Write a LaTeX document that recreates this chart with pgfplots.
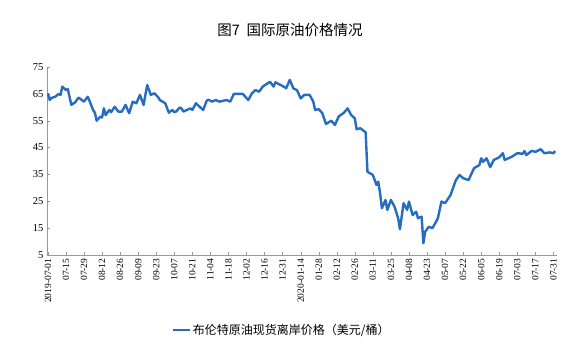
\documentclass[border=0pt]{standalone}
\usepackage{pgfplots}
\pgfplotsset{compat=1.18}
\usepackage{fontspec}
\setmainfont{Liberation Serif}
\newfontfamily\cjk{Noto Sans CJK SC}
\definecolor{brent}{RGB}{38,108,192}
\begin{document}
\begin{tikzpicture}[x=1pt,y=1pt]
\path[use as bounding box] (0,0) rectangle (575,355);
\node[font=\cjk\fontsize{14.5}{16}\selectfont] at (290,325) {图7\ \ 国际原油价格情况};
\begin{axis}[
  at={(47pt,100pt)}, anchor=south west,
  scale only axis, width=510pt, height=188pt,
  xmin=-0.5, xmax=282, ymin=5, ymax=75,
  axis lines=left,
  axis line style={-, draw=gray!80},
  ytick={5,15,25,35,45,55,65,75},
  xtick={0,10,20,30,40,50,60,70,80,90,100,110,120,130,140,150,160,170,180,190,200,210,220,230,240,250,260,270,280},
  xticklabels={2019-07-01,07-15,07-29,08-12,08-26,09-09,09-23,10-07,10-21,11-04,11-18,12-02,12-16,12-31,2020-01-14,01-28,02-12,02-26,03-11,03-25,04-08,04-23,05-07,05-22,06-05,06-19,07-03,07-17,07-31},
  x tick label style={rotate=90, anchor=east, font=\fontsize{9.5}{10}\selectfont},
  y tick label style={font=\fontsize{10.5}{11}\selectfont},
  /pgf/number format/assume math mode=true,
  tick style={draw=gray!80},
  tick align=inside,
  major tick length=3pt,
  legend style={at={(0.46,-0.40)}, anchor=center, draw=none, fill=none,
    font=\cjk\fontsize{12}{13}\selectfont, legend columns=1},
  legend cell align=left,
]
\addplot[brent, line width=2.4pt, line join=round] coordinates {
(0,65.2) (1,62.7) (2,63.5) (4,63.9) (6,65.0) (7,64.6) (8,67.7) (10,66.4) (11,66.8) (13,60.9) (15,61.8) (17,63.6) (19,62.6) (20,62.1)
(22,63.9) (23,62.5) (25,59.0) (26,58.0) (27,55.0) (29,56.5) (30,56.2) (31,59.6) (32,57.1) (34,59.0) (35,58.2) (37,60.2)
(39,58.4) (41,58.4) (43,60.9) (45,57.8) (47,62.1) (49,61.5) (51,64.6) (53,60.9)
(55,68.3) (57,64.6) (59,65.2) (61,63.8) (62,62.7) (65,61.5) (67,58.0) (69,59.0) (70,58.2) (71,58.4)
(73,59.9) (74,59.6) (75,58.4) (77,59.0) (79,59.6) (80,59.0) (82,61.5) (84,60.2) (86,59.0) (88,62.5) (89,62.8) (91,62.1)
(93,62.7) (95,62.1) (97,62.4) (99,62.7) (101,62.1) (103,65.0) (106,65.0) (108,65.0) (109,64.2) (111,62.7) (113,65.2)
(115,66.4) (117,65.8) (119,67.7) (121,68.6) (123,69.5) (125,67.7) (126,69.3) (128,68.6) (130,67.9) (132,67.1)
(134,70.2) (136,67.0) (138,66.4) (140,63.3) (142,64.6) (145,64.6) (147,62.1) (148,59.0)
(150,59.3) (152,57.8) (154,53.8) (157,55.0) (159,53.4) (161,56.5) (164,58.0) (166,59.6)
(168,57.1) (170,55.9) (171,51.8) (173,52.2) (176,50.7) (177,36.0) (180,34.8) (182,31.1)
(183,32.3) (184,28.0) (185,22.4) (187,25.5) (188,21.8) (190,25.5) (192,23.0) (194,18.7)
(195,14.6) (197,24.3) (199,21.8) (200,24.9) (202,19.9) (204,21.1) (205,18.7) (207,19.3)
(208,9.4) (209,13.7) (211,15.5) (213,15.0) (215,17.4) (216,18.7) (218,24.9) (220,24.3)
(223,27.3) (226,32.9) (228,34.8) (230,33.6) (233,32.9) (236,37.3) (239,38.5) (240,41.0)
(241,39.7) (243,41.0) (245,37.7) (247,40.4) (250,41.4) (252,42.9) (253,40.4) (257,41.6)
(260,42.9) (263,42.7) (264,43.7) (265,42.2) (268,43.8) (270,43.4) (273,44.4) (275,42.9)
(278,43.2) (280,42.9) (281,43.7)
};
\addlegendentry{布伦特原油现货离岸价格（美元/桶）}
\end{axis}
\end{tikzpicture}
\end{document}
